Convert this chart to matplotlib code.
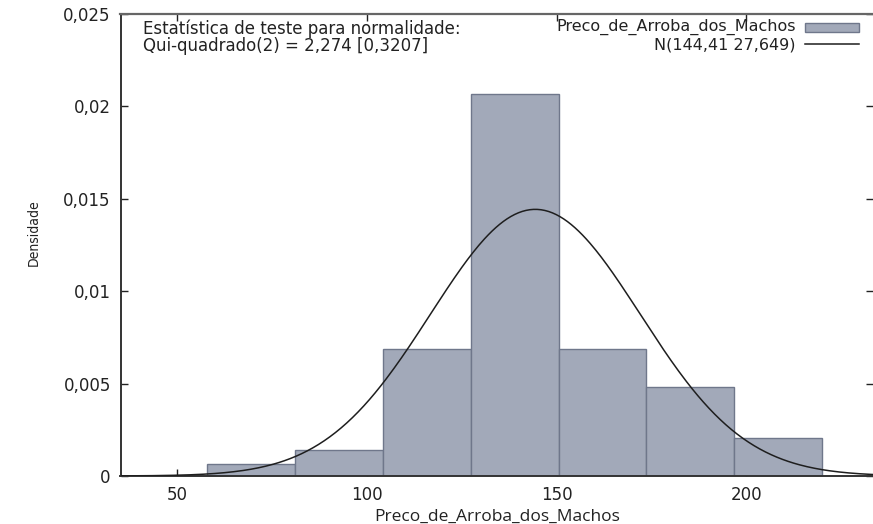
import numpy as np
import matplotlib
matplotlib.use('Agg')
import matplotlib.pyplot as plt
from matplotlib.patches import Rectangle
from matplotlib.lines import Line2D

# histogram (density per bin)
bin_edges = [58.0, 81.14, 104.29, 127.43, 150.57, 173.71, 196.86, 220.0]
densities = [0.00067, 0.00139, 0.00688, 0.02068, 0.00688, 0.0048, 0.00204]

# fitted normal N(mean, sd)
mu = 144.41
sigma = 27.649

x_ticks = [50, 100, 150, 200]
y_ticks = [0, 0.005, 0.01, 0.015, 0.02, 0.025]
y_labels = ['0', '0,005', '0,01', '0,015', '0,02', '0,025']

series_name = 'Preco_de_Arroba_dos_Machos'
curve_name = 'N(144,41 27,649)'
test_text = 'Estatística de teste para normalidade:\nQui-quadrado(2) = 2,274 [0,3207]'

plt.rcParams['font.family'] = ['DejaVu Sans']

fig = plt.figure(figsize=(8.73, 5.24), dpi=100)
W, H = 873, 524
ax = fig.add_axes([120.5 / W, 1 - 476 / H, 1 - 120.5 / W, (476 - 14) / H])

bar_fill = '#a2a9b9'
bar_edge = '#6f778b'
widths = np.diff(bin_edges)
ax.bar(bin_edges[:-1], densities, width=widths, align='edge',
       color=bar_fill, edgecolor=bar_edge, linewidth=1.0, zorder=2)

xlo, xhi = 35.1, 233.4
xs = np.linspace(xlo, xhi, 400)
ys = np.exp(-0.5 * ((xs - mu) / sigma) ** 2) / (sigma * np.sqrt(2 * np.pi))
ax.plot(xs, ys, color='#1e1e1e', linewidth=1.1, zorder=3)

ax.set_xlim(xlo, xhi)
ax.set_ylim(0, 0.025)
ax.set_xticks(x_ticks)
ax.set_yticks(y_ticks)
ax.set_yticklabels(y_labels)
ax.tick_params(direction='in', length=5, width=1, top=True, right=True,
               labelsize=12, colors='#222222', pad=7)

for s in ['left', 'bottom']:
    ax.spines[s].set_color('#333333')
    ax.spines[s].set_linewidth(1.4)
ax.spines['top'].set_color('#666666')
ax.spines['top'].set_linewidth(1.6)
ax.spines['right'].set_visible(False)

ax.set_xlabel(series_name, family=['Open Sans', 'DejaVu Sans'], fontsize=12.5,
              color='#222222', labelpad=4)
fig.text(34 / W, 1 - 233 / H, 'Densidade', rotation=90, ha='center', va='center',
         family=['DejaVu Sans'], stretch='condensed', fontsize=10, color='#222222')

fig.text(143 / W, 1 - 19 / H, test_text, ha='left', va='top', fontsize=12,
         linespacing=0.95, color='#222222')

# legend drawn by hand so the labels are right-aligned like the original
fig.text(796 / W, 1 - 27 / H, series_name, ha='right', va='center', fontsize=11.5,
         color='#222222')
fig.text(796 / W, 1 - 45 / H, curve_name, ha='right', va='center', fontsize=11.5,
         color='#222222')
fig.patches.append(Rectangle((805 / W, 1 - 32 / H), 54 / W, 9 / H, transform=fig.transFigure,
                             facecolor=bar_fill, edgecolor=bar_edge, linewidth=1.0))
fig.lines.append(Line2D([805 / W, 859 / W], [1 - 44 / H, 1 - 44 / H], transform=fig.transFigure,
                        color='#1e1e1e', linewidth=1.1))

fig.savefig('out.png', dpi=100)
